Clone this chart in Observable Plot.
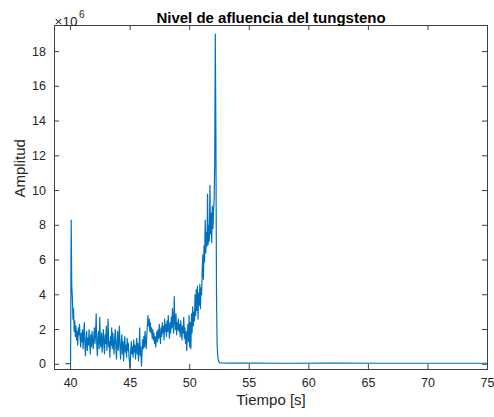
<!DOCTYPE html>
<html>
<head>
<meta charset="utf-8">
<script src="https://cdn.jsdelivr.net/npm/d3@7"></script>
<script src="https://cdn.jsdelivr.net/npm/@observablehq/plot@0.6"></script>
<style>
  html, body { margin: 0; padding: 0; background: #fff; }
  #chart svg { display: block; }
</style>
</head>
<body>
<div id="chart"></div>
<script>
// Tick values
const xTicks = [40, 45, 50, 55, 60, 65, 70, 75];
const yTicks = [0, 2, 4, 6, 8, 10, 12, 14, 16, 18];

// Signal before the burst (time s, amplitude ×10^6)
const headTime = [39.6, 39.95];
const headAmp = [0.04, 0.04];

// Main burst, sampled every 0.05 s starting at 40.00 s (amplitude ×10^6)
const mainStart = 40.0;
const mainStep = 0.05;
const mainAmp = [
  0.05, 8.3, 4.5, 3.8, 2.6, 3.2, 1.9, 2.5, 1.6, 2.2, 1.4, 1.9, 1.1, 2.1, 1.7, 2.3, 1.5, 1.0, 1.8, 1.3,
  2.0, 0.9, 1.6, 2.4, 1.2, 0.5, 1.4, 1.9, 0.8, 1.5, 1.1, 2.0, 1.3, 0.6, 1.7, 1.0, 1.9, 1.4, 0.9, 1.6,
  2.1, 1.2, 1.8, 2.9, 1.1, 0.5, 1.5, 1.9, 0.9, 2.7, 1.3, 1.0, 1.8, 0.7, 1.4, 2.0, 1.1, 0.6, 1.7, 1.2,
  2.2, 0.8, 1.5, 2.6, 1.0, 1.3, 0.4, 1.6, 1.1, 2.1, 0.9, 1.8, 1.2, 0.6, 1.5, 2.0, 1.0, 0.3, 1.3, 1.9,
  0.8, 1.4, 2.2, 0.9, 0.3, 1.2, 1.7, 0.6, 1.3, 0.2, 1.0, 1.6, 0.7, 1.1, 0.4, 1.5, 0.8, 1.2, 0.5, 0.1,
  -0.2, 0.8, 1.3, 0.6, 1.0, 0.4, 1.4, 0.7, 1.1, 0.3, 0.9, 1.5, 0.6, 1.2, 0.2, 0.8, 2.1, 0.5, 1.0, -0.1,
  0.7, 1.4, 0.9, 1.6, 1.0, 1.9, 1.3, 0.9, 1.7, 2.3, 2.8, 2.2, 2.6, 1.9, 2.4, 1.8, 2.1, 1.5, 2.0, 1.4,
  1.8, 1.2, 1.6, 1.0, 1.5, 1.9, 1.3, 2.0, 1.5, 2.3, 1.7, 1.2, 2.1, 1.6, 2.4, 1.8, 2.2, 1.4, 2.6, 1.9,
  2.3, 1.6, 2.5, 1.9, 2.8, 2.0, 1.5, 2.4, 1.8, 2.7, 2.1, 3.2, 2.3, 1.8, 3.9, 2.5, 2.0, 2.9, 1.7, 2.4,
  2.0, 2.6, 1.9, 2.3, 1.6, 2.5, 2.0, 1.4, 2.2, 1.8, 2.7, 1.5, 2.1, 1.2, 1.9, 0.8, 1.6, 2.3, 1.3, 2.8,
  1.0, 2.4, 0.9, 2.9, 1.8, 3.3, 2.2, 3.0, 2.5, 4.0, 2.8, 4.3, 3.1, 4.5, 2.6, 4.1, 3.4, 4.6, 3.2, 4.4,
  4.0, 5.4, 6.3, 4.9, 6.8, 5.9, 8.3, 6.4, 7.6, 6.8, 9.8, 6.9, 8.0, 7.1, 10.3, 7.5, 8.7, 7.0, 9.1, 7.8,
  8.8, 9.5, 11.5, 19.0, 13.0, 4.0, 1.2, 0.5, 0.25, 0.15, 0.1
];

// Residual level after the burst
const tailTime = [52.6, 53.5, 55, 58, 62, 66, 70, 75];
const tailAmp = [0.08, 0.07, 0.07, 0.06, 0.07, 0.06, 0.06, 0.06];

// Assemble the series
const series = [];
headTime.forEach((t, i) => series.push({t, a: headAmp[i]}));
mainAmp.forEach((a, i) => series.push({t: mainStart + i * mainStep, a}));
tailTime.forEach((t, i) => series.push({t, a: tailAmp[i]}));

const W = 494, H = 417;
const mL = 54, mR = 7, mT = 25, mB = 48;
const innerW = W - mL - mR, innerH = H - mT - mB;
const tickLen = 5;

const axisColor = "#404040";
const textColor = "#262626";

const chart = Plot.plot({
  width: W,
  height: H,
  marginLeft: mL,
  marginRight: mR,
  marginTop: mT,
  marginBottom: mB,
  style: {
    fontFamily: "'Liberation Sans', Arial, Helvetica, sans-serif",
    fontSize: "12.5px",
    color: textColor,
    background: "#fff",
    overflow: "visible"
  },
  x: {domain: [38.65, 75]},
  y: {domain: [-0.3, 19.5]},
  marks: [
    Plot.line(series, {x: "t", y: "a", stroke: "#0072BD", strokeWidth: 1.2}),
    Plot.frame({stroke: axisColor, strokeWidth: 1}),
    // inward ticks on all four sides
    Plot.tickX(xTicks, {x: d => d, insetTop: innerH - tickLen, stroke: axisColor}),
    Plot.tickX(xTicks, {x: d => d, insetBottom: innerH - tickLen, stroke: axisColor}),
    Plot.tickY(yTicks, {y: d => d, insetRight: innerW - tickLen, stroke: axisColor}),
    Plot.tickY(yTicks, {y: d => d, insetLeft: innerW - tickLen, stroke: axisColor}),
    // tick labels
    Plot.axisX({anchor: "bottom", ticks: xTicks, tickSize: 0, tickPadding: 9, label: null, fill: textColor}),
    Plot.axisY({anchor: "left", ticks: yTicks, tickSize: 0, tickPadding: 8.5, label: null, fill: textColor}),
    // titles
    Plot.text(["Nivel de afluencia del tungsteno"], {frameAnchor: "top", dy: -13, fontWeight: "bold", fontSize: 15, fill: "#000"}),
    Plot.text(["Tiempo [s]"], {frameAnchor: "bottom", dy: 35, fontSize: 15, fill: textColor}),
    Plot.text(["Amplitud"], {frameAnchor: "left", dx: -34, rotate: -90, fontSize: 15, fill: textColor}),
    Plot.text(["×10"], {frameAnchor: "top-left", textAnchor: "start", dy: -9, dx: 0, fontSize: 13.5, fill: textColor}),
    Plot.text(["6"], {frameAnchor: "top-left", textAnchor: "start", dy: -15, dx: 24.5, fontSize: 10, fill: textColor})
  ]
});
document.getElementById("chart").appendChild(chart);
</script>
</body>
</html>
